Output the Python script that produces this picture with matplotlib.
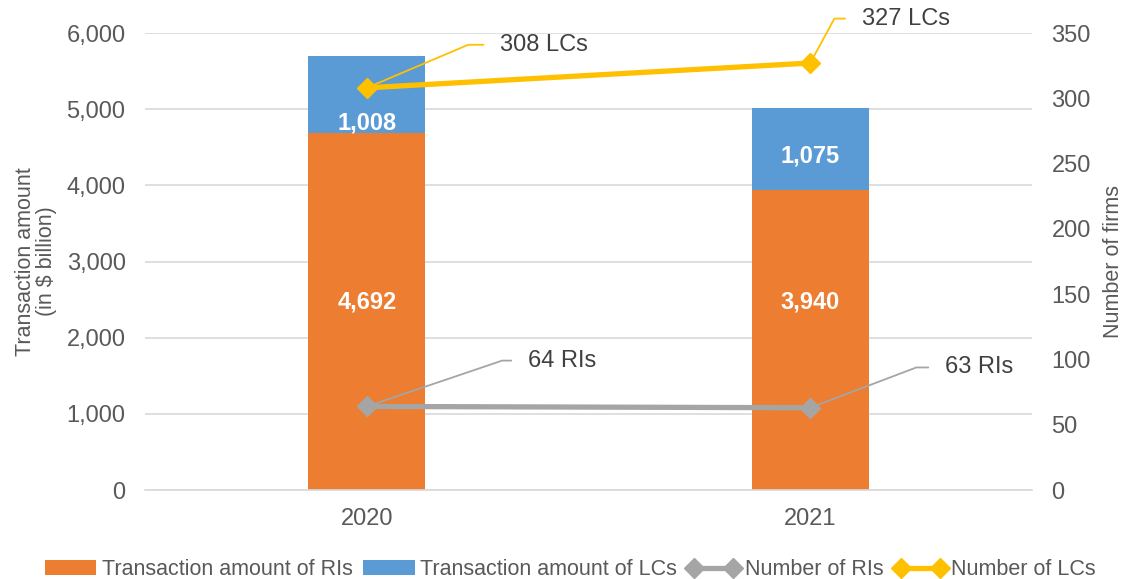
import matplotlib.pyplot as plt
import numpy as np

plt.rcParams['font.family'] = ['Liberation Sans', 'DejaVu Sans']

years = ['2020', '2021']
ri_amount = [4692, 3940]
lc_amount = [1008, 1075]
ri_firms = [64, 63]
lc_firms = [308, 327]

orange = '#ED7D31'
blue = '#5B9BD5'
grey = '#A5A5A5'
gold = '#FFC000'
txt = '#595959'

fig = plt.figure(figsize=(11.27, 5.79), dpi=100)
ax = fig.add_axes([0.1287, 0.1537, 0.7870, 0.7893])
ax2 = ax.twinx()

x = np.arange(len(years))
w = 0.264
ax.bar(x, ri_amount, w, color=orange, label='Transaction amount of RIs', zorder=2)
ax.bar(x, lc_amount, w, bottom=ri_amount, color=blue,
       label='Transaction amount of LCs', zorder=2)

# value labels in bars
for i in range(len(years)):
    ax.text(x[i], 2470, f'{ri_amount[i]:,}', ha='center', va='center',
            color='white', fontsize=17, fontweight='bold', zorder=3)
lc_pos = [ri_amount[0] + 0.12 * lc_amount[0], ri_amount[1] + 0.42 * lc_amount[1]]
for i in range(len(years)):
    ax.text(x[i], lc_pos[i], f'{lc_amount[i]:,}', ha='center', va='center',
            color='white', fontsize=17, fontweight='bold', zorder=3)

ax2.plot(x, ri_firms, color=grey, lw=3.8, marker='D', ms=10.5, label='Number of RIs')
ax2.plot(x, lc_firms, color=gold, lw=3.8, marker='D', ms=10.5, label='Number of LCs')

# callouts with leader lines
callouts = [
    (x[0], lc_firms[0], f'{lc_firms[0]} LCs', (96, 31), 23, gold),
    (x[1], lc_firms[1], f'{lc_firms[1]} LCs', (37, 32), 61.5, gold),
    (x[0], ri_firms[0], f'{ri_firms[0]} RIs', (116, 33), 18.7, grey),
    (x[1], ri_firms[1], f'{ri_firms[1]} RIs', (97, 29), 20.8, grey),
]
for xi, yi, s, off, ang, c in callouts:
    ax2.annotate(s, xy=(xi, yi), xytext=off, textcoords='offset points',
                 ha='left', va='center', fontsize=17, color='#404040',
                 arrowprops=dict(arrowstyle='-', color=c, lw=1.3, relpos=(0, 0.5),
                                 shrinkA=10, shrinkB=0,
                                 connectionstyle=f'angle,angleA=180,angleB={ang},rad=0'))

ax.set_xlim(-0.5, 1.5)
ax.set_ylim(0, 6000)
ax.set_yticks(range(0, 6001, 1000))
ax.set_yticklabels([f'{v:,}' for v in range(0, 6001, 1000)])
ax2.set_ylim(0, 350)
ax2.set_yticks(range(0, 351, 50))
ax.set_xticks(x)
ax.set_xticklabels(years)

ax.grid(axis='y', color='#D9D9D9', lw=1.2, zorder=0)
ax.set_axisbelow(True)
for a in (ax, ax2):
    for sp in a.spines.values():
        sp.set_visible(False)
    a.tick_params(length=0, colors=txt, labelsize=17)
ax.spines['bottom'].set_visible(True)
ax.spines['bottom'].set_color('#D9D9D9')
ax.spines['bottom'].set_linewidth(1.2)
ax.tick_params(axis='x', pad=13)
ax.tick_params(axis='y', pad=14)
ax2.tick_params(axis='y', pad=14)

ax.set_ylabel('Transaction amount\n(in $ billion)', color=txt, fontsize=15.5,
              linespacing=1.0, labelpad=7)
ax2.set_ylabel('Number of firms', color=txt, fontsize=15.5, labelpad=9)

h1, l1 = ax.get_legend_handles_labels()
h2, l2 = ax2.get_legend_handles_labels()
fig.legend(h1 + h2, l1 + l2, loc='center', bbox_to_anchor=(0.506, 0.016),
           ncol=4, frameon=False, fontsize=15.5, labelcolor=txt,
           handlelength=2.4, handletextpad=0.25, columnspacing=0.5, numpoints=2,
           borderpad=0, borderaxespad=0)

fig.savefig('out.png', dpi=100)
